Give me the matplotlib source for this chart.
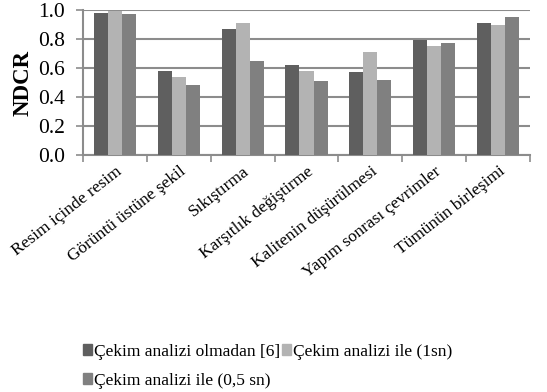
import matplotlib
matplotlib.use("Agg")
import matplotlib.pyplot as plt
import numpy as np
from matplotlib.patches import Patch

plt.rcParams['font.family'] = ['Liberation Serif', 'DejaVu Serif']

categories = ["Resim içinde resim", "Görüntü üstüne şekil", "Sıkıştırma",
              "Karşıtlık değiştirme", "Kalitenin düşürülmesi",
              "Yapım sonrası çevrimler", "Tümünün birleşimi"]
series_names = ["Çekim analizi olmadan [6]", "Çekim analizi ile (1sn)",
                "Çekim analizi ile (0,5 sn)"]
s_no = [0.98, 0.58, 0.87, 0.62, 0.57, 0.79, 0.91]
s_1 = [0.99, 0.54, 0.91, 0.58, 0.71, 0.75, 0.90]
s_05 = [0.97, 0.48, 0.65, 0.51, 0.52, 0.77, 0.95]
yticks = [0.0, 0.2, 0.4, 0.6, 0.8, 1.0]

colors = ["#5f5f5f", "#b3b3b3", "#808080"]

fig = plt.figure(figsize=(5.47, 3.92), dpi=100)
ax = fig.add_axes([83/547, 1-155/392, (530-83)/547, (155-10)/392])

x = np.arange(len(categories))
w = 0.22
for i, (vals, c) in enumerate(zip([s_no, s_1, s_05], colors)):
    ax.bar(x + (i-1)*w, vals, width=w, color=c, zorder=3, label=series_names[i])

ax.set_xlim(-0.5, len(categories)-0.5)
ax.set_ylim(0, 1.0)
ax.set_yticks(yticks)
ax.set_yticklabels([f"{v:.1f}" for v in yticks], fontsize=15.5)
ax.yaxis.grid(True, color="#8c8c8c", linewidth=1.5, zorder=0)
ax.set_axisbelow(True)
for s in ["top", "right"]:
    ax.spines[s].set_visible(False)
ax.spines["left"].set_color("#8c8c8c")
ax.spines["bottom"].set_color("#8c8c8c")
ax.spines["left"].set_linewidth(1.5)
ax.spines["bottom"].set_linewidth(1.5)
ax.tick_params(axis='y', length=5, color="#8c8c8c", width=1.2, pad=8)

ax.set_xticks(np.arange(-0.5, len(categories), 1.0))
ax.set_xticklabels([])
ax.set_xticks(x, minor=True)
ax.set_xticklabels(categories, minor=True, rotation=38, ha='right',
                   rotation_mode='anchor', fontsize=12.5)
ax.tick_params(axis='x', which='major', length=5, color="#8c8c8c", width=1.2)
ax.tick_params(axis='x', which='minor', length=0, pad=6)

ax.set_ylabel("NDCR", fontsize=16.5, fontweight='bold', labelpad=3)

handles = [Patch(color=c) for c in colors]
order = [0, 2, 1]
fig.legend([handles[i] for i in order], [series_names[i] for i in order],
           ncol=2, loc='upper left', bbox_to_anchor=(67/547, 1-328/392),
           frameon=False, fontsize=12.5, handlelength=0.55, handleheight=0.55,
           handletextpad=0.1, columnspacing=0.1, labelspacing=0.75)

fig.savefig("out.png", dpi=100)
